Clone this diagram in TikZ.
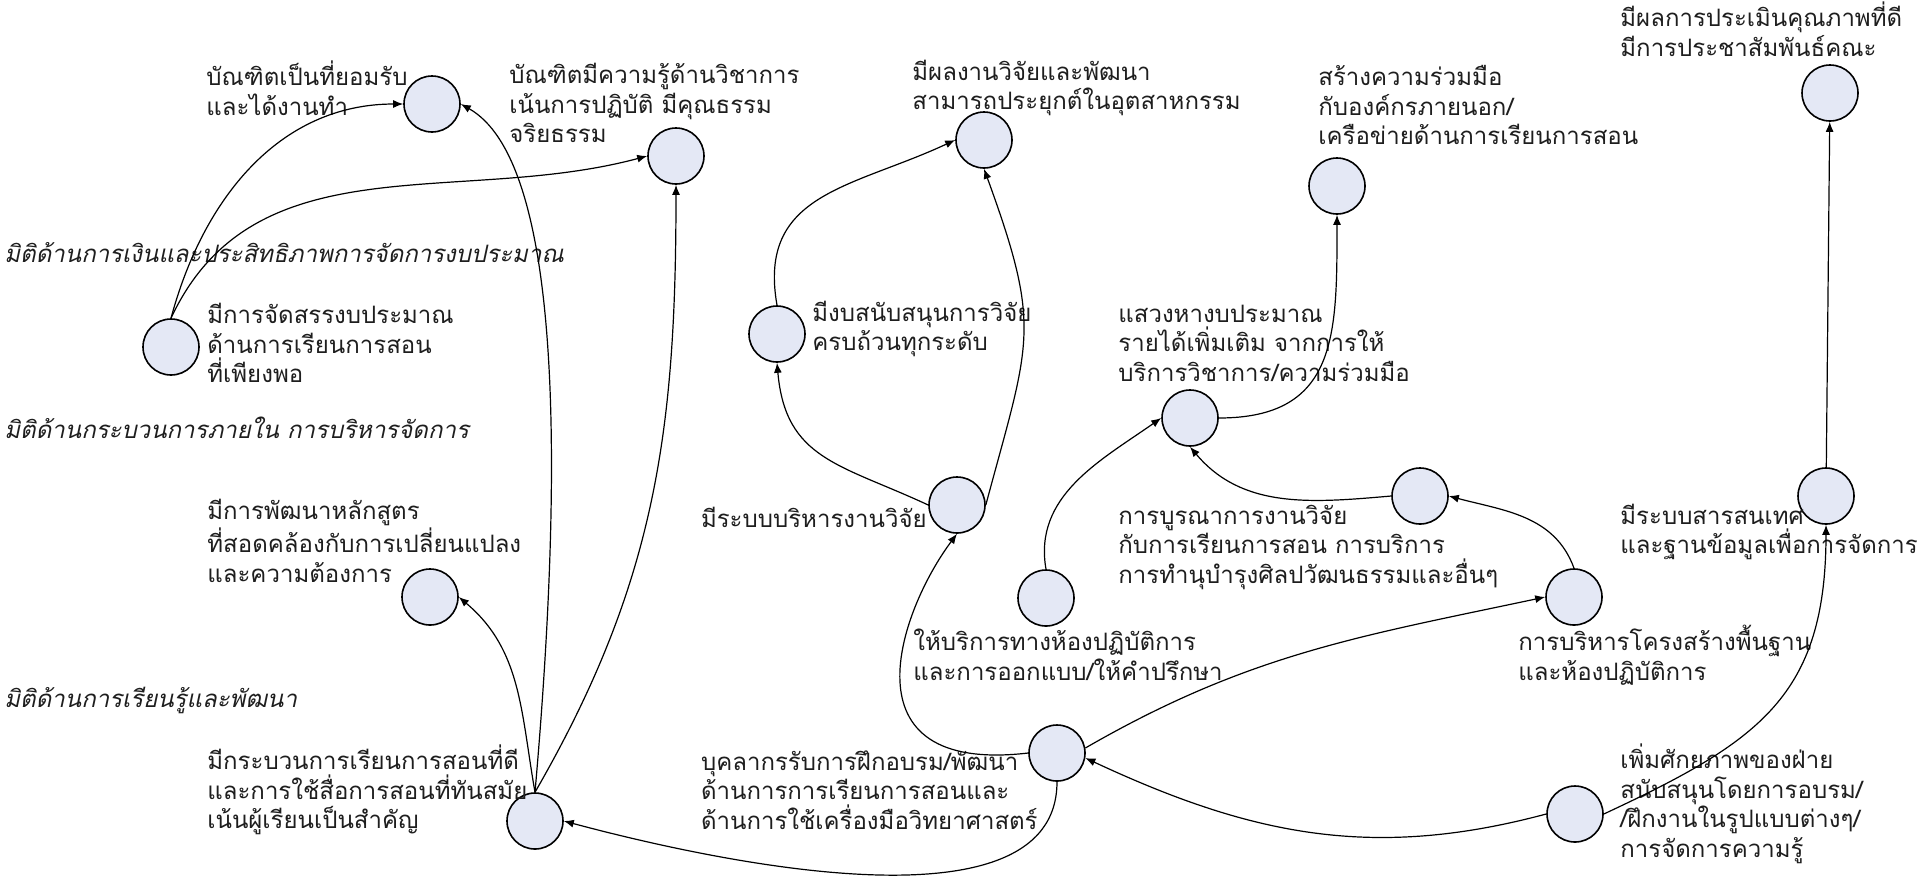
\documentclass[tikz,border=0pt]{standalone}
\usepackage{fontspec}
\newfontfamily\thaifont[Script=Thai]{Loma}
\usetikzlibrary{arrows.meta}
\usepackage{xcolor}

\definecolor{bubble}{RGB}{228,232,245}
\definecolor{ink}{RGB}{30,30,30}

\tikzset{
	goal/.style={circle, draw=black, line width=0.8pt, fill=bubble, minimum size=28pt, inner sep=0pt},
	lbl/.style={font=\thaifont\fontsize{12}{14.75}\selectfont, text=ink, align=left, inner sep=0pt},
	dimen/.style={font=\thaifont\itshape\fontsize{12}{14.75}\selectfont, text=ink, inner sep=0pt, anchor=west},
	link/.style={-{Latex[length=5pt,width=4pt]}, line width=0.6pt},
}

\begin{document}
\begin{tikzpicture}[x=0.5pt, y=0.5pt] % strategy map
	
	\useasboundingbox (0,0) rectangle (1917,-885);
	
	%dimension headings
	\node[dimen] (dimfin) at (4,-253) {มิติด้านการเงินและประสิทธิภาพการจัดการงบประมาณ};
	\node[dimen] (dimint) at (4,-428) {มิติด้านกระบวนการภายใน การบริหารจัดการ};
	\node[dimen] (dimlrn) at (4,-700) {มิติด้านการเรียนรู้และพัฒนา};
	
	%goal circles
	\node[goal] (A) at (432,-104) {};
	\node[goal] (B) at (676,-156) {};
	\node[goal] (C) at (984,-140) {};
	\node[goal] (D) at (1337,-186) {};
	\node[goal] (E) at (1830,-93) {};
	\node[goal] (F) at (171,-347) {};
	\node[goal] (G) at (777,-334) {};
	\node[goal] (H) at (1190,-418) {};
	\node[goal] (I) at (957,-505) {};
	\node[goal] (J) at (1420,-496) {};
	\node[goal] (K) at (1826,-496) {};
	\node[goal] (L) at (430,-597) {};
	\node[goal] (M) at (1046,-598) {};
	\node[goal] (N) at (1574,-597) {};
	\node[goal] (O) at (1057,-753) {};
	\node[goal] (P) at (535,-821) {};
	\node[goal] (Q) at (1575,-814) {};
	
	%labels
	\node[lbl, anchor=west] (tA) at (206,-88) {บัณฑิตเป็นที่ยอมรับ\\และได้งานทำ};
	\node[lbl, anchor=west] (tB) at (509,-103) {บัณฑิตมีความรู้ด้านวิชาการ\\เน้นการปฏิบัติ มีคุณธรรม\\จริยธรรม};
	\node[lbl, anchor=west] (tC) at (912,-88) {มีผลงานวิจัยและพัฒนา\\สามารถประยุกต์ในอุตสาหกรรม};
	\node[lbl, anchor=west] (tD) at (1318,-105) {สร้างความร่วมมือ\\กับองค์กรภายนอก/\\เครือข่ายด้านการเรียนการสอน};
	\node[lbl, anchor=west] (tE) at (1620,-29) {มีผลการประเมินคุณภาพที่ดี\\มีการประชาสัมพันธ์คณะ};
	\node[lbl, anchor=west] (tF) at (207,-343) {มีการจัดสรรงบประมาณ\\ด้านการเรียนการสอน\\ที่เพียงพอ};
	\node[lbl, anchor=west] (tG) at (812,-329) {มีงบสนับสนุนการวิจัย\\ครบถ้วนทุกระดับ};
	\node[lbl, anchor=west] (tH) at (1118,-343) {แสวงหางบประมาณ\\รายได้เพิ่มเติม จากการให้\\บริการวิชาการ/ความร่วมมือ};
	\node[lbl, anchor=east] (tI) at (927,-517) {มีระบบบริหารงานวิจัย};
	\node[lbl, anchor=west] (tL) at (207,-541) {มีการพัฒนาหลักสูตร\\ที่สอดคล้องกับการเปลี่ยนแปลง\\และความต้องการ};
	\node[lbl, anchor=west] (tJ) at (1118,-547) {การบูรณาการงานวิจัย\\กับการเรียนการสอน การบริการ\\การทำนุบำรุงศิลปวัฒนธรรมและอื่นๆ};
	\node[lbl, anchor=west] (tK) at (1620,-532) {มีระบบสารสนเทศ\\และฐานข้อมูลเพื่อการจัดการ};
	\node[lbl, anchor=west] (tM) at (913,-655) {ให้บริการทางห้องปฏิบัติการ\\และการออกแบบ/ให้คำปรึกษา};
	\node[lbl, anchor=west] (tN) at (1518,-655) {การบริหารโครงสร้างพื้นฐาน\\และห้องปฏิบัติการ};
	\node[lbl, anchor=west] (tP) at (207,-790) {มีกระบวนการเรียนการสอนที่ดี\\และการใช้สื่อการสอนที่ทันสมัย\\เน้นผู้เรียนเป็นสำคัญ};
	\node[lbl, anchor=east] (tO) at (1038,-790) {บุคลากรรับการฝึกอบรม/พัฒนา\\ด้านการการเรียนการสอนและ\\ด้านการใช้เครื่องมือวิทยาศาสตร์};
	\node[lbl, anchor=west] (tQ) at (1620,-804) {เพิ่มศักยภาพของฝ่าย\\สนับสนุนโดยการอบรม/\\/ฝึกงานในรูปแบบต่างๆ/\\การจัดการความรู้};
	
	%arrows
	\draw[link] (F.north) to[out=75, in=180] (A.west);
	\draw[link] (F.north) to[out=65, in=195] (B.west);
	\draw[link] (P.north) .. controls (565,-450) and (560,-160) .. (A.east);
	\draw[link] (P.north) to[out=60, in=-90] (B.south);
	\draw[link] (P.north) to[out=100, in=-40] (L.east);
	\draw[link] (O.south) to[out=-90, in=-15, looseness=0.8] (P.east);
	\draw[link] (Q.west) to[out=195, in=-25] (O.-10);
	\draw[link] (O.10) to[out=30, in=192] (N.west);
	\draw[link] (O.west) .. controls (840,-775) and (900,-610) .. (I.south);
	\draw[link] (I.west) to[out=155, in=-85, looseness=1.2] (G.south);
	\draw[link] (I.east) to[out=75, in=-70, looseness=1.3] (C.south);
	\draw[link] (G.north) to[out=100, in=205, looseness=1.2] (C.west);
	\draw[link] (M.north) to[out=100, in=215] (H.west);
	\draw[link] (H.east) to[out=0, in=-90, looseness=1.3] (D.south);
	\draw[link] (J.west) to[out=185, in=-50] (H.south);
	\draw[link] (N.north) to[out=110, in=-15] (J.east);
	\draw[link] (K) -- (E);
	\draw[link] (Q.east) to[out=25, in=-90, looseness=1.2] (K.south);
	
\end{tikzpicture}
\end{document}
